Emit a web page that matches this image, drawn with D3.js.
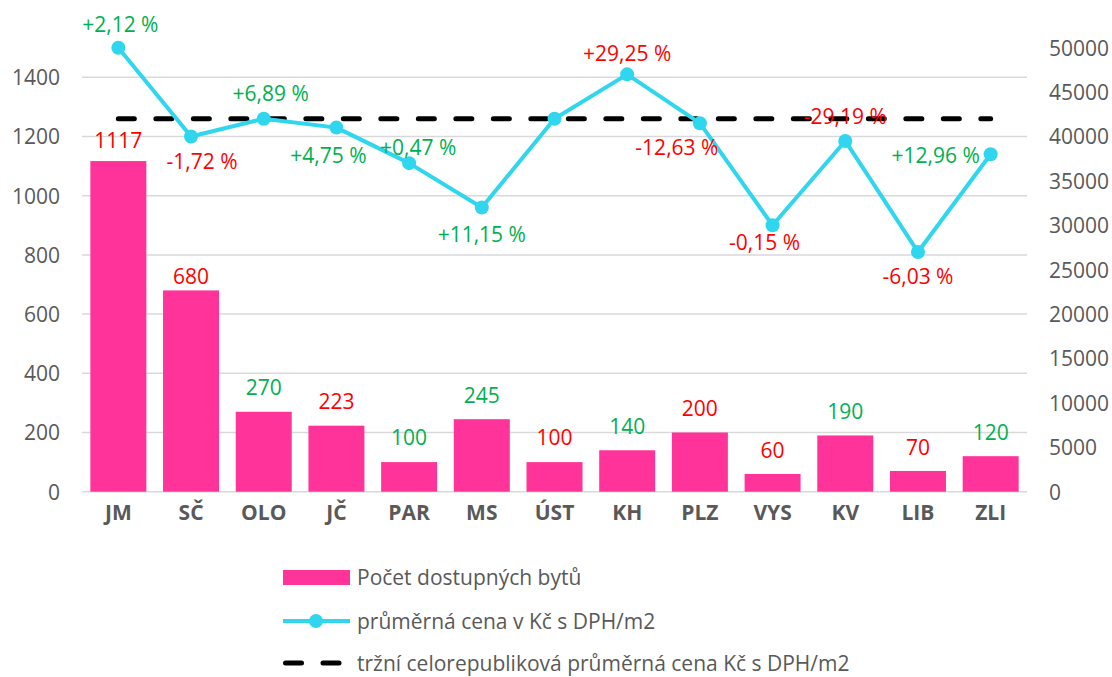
<!DOCTYPE html>
<html><head><meta charset="utf-8">
<script src="https://cdn.jsdelivr.net/npm/d3@7"></script>
<style>body{margin:0;background:#fff}svg{display:block}text{font-family:"Open Sans",sans-serif}</style>
</head><body><svg id="c" width="1112" height="677"></svg>
<script>
const categories = ["JM","SČ","OLO","JČ","PAR","MS","ÚST","KH","PLZ","VYS","KV","LIB","ZLI"];
const flats = [1117,680,270,223,100,245,100,140,200,60,190,70,120];
const flatLabelColor = ["r","r","g","r","g","g","r","g","r","r","g","r","g"];
const avgPrice = [50000,40000,42000,41000,37000,32000,42000,47000,41500,30000,39500,27000,38000];
const pctLabels = ["+2,12 %","-1,72 %","+6,89 %","+4,75 %","+0,47 %","+11,15 %","","+29,25 %","-12,63 %","-0,15 %","-29,19 %","-6,03 %","+12,96 %"];
const pctColor = ["g","r","g","g","g","g","","r","r","r","r","r","g"];
const marketPrice = 42000;
const leftTicks = [0,200,400,600,800,1000,1200,1400];
const rightTicks = [0,5000,10000,15000,20000,25000,30000,35000,40000,45000,50000];
const legendLabels = ["Počet dostupných bytů","průměrná cena v Kč s DPH/m2","tržní celorepubliková průměrná cena Kč s DPH/m2"];

// label placement (styling): offsets from point
const pctDx = [2,11,7,-8,9,0,0,0,-23,-8,0,0,-55];
const pctDy = [-24,24,-26,27,-16,26,0,-21,24,17,-25,24,1];
const barLabelDy = [-21,-14,-25,-25,-25,-24,-25,-24,-25,-24,-24,-24,-24];

const COL = {r:"#FF0000", g:"#00B050"};
const BAR = "#FF3399", LINE = "#2FD6EE", GRID="#D9D9D9", AX="#595959";
const fmt = d3.format("d");

const svg = d3.select("#c");
const x = d3.scaleBand().domain(categories).range([82,1027]).paddingInner(0.23).paddingOuter(0.115);
const yL = d3.scaleLinear().domain([0,1500]).range([491.7,47.7]);
const yR = d3.scaleLinear().domain([0,50000]).range([491.7,47.7]);

// gridlines
svg.append("g").selectAll("line").data(leftTicks).join("line")
  .attr("x1",82).attr("x2",1027).attr("y1",d=>yL(d)).attr("y2",d=>yL(d))
  .attr("stroke",GRID).attr("stroke-width",1.5);

// left axis
const la = svg.append("g").attr("transform","translate(60,0)")
  .call(d3.axisLeft(yL).tickValues(leftTicks).tickFormat(fmt).tickSize(0).tickPadding(0));
la.select(".domain").remove();
la.selectAll("text").attr("font-size",21).attr("fill",AX).attr("font-family","Open Sans").attr("dy","0.35em");

// right axis
const ra = svg.append("g").attr("transform","translate(1049,0)")
  .call(d3.axisRight(yR).tickValues(rightTicks).tickFormat(fmt).tickSize(0).tickPadding(0));
ra.select(".domain").remove();
ra.selectAll("text").attr("font-size",21).attr("fill",AX).attr("font-family","Open Sans").attr("dy","0.35em");

// x axis labels
const xa = svg.append("g").attr("transform","translate(0,505)")
  .call(d3.axisBottom(x).tickSize(0).tickPadding(0));
xa.select(".domain").remove();
xa.selectAll("text").attr("font-size",21).attr("font-weight","bold").attr("fill",AX).attr("font-family","Open Sans").attr("dy","0.71em");

// bars
svg.append("g").selectAll("rect").data(flats).join("rect")
  .attr("x",(d,i)=>x(categories[i])).attr("width",x.bandwidth())
  .attr("y",d=>yL(d)).attr("height",d=>yL(0)-yL(d)).attr("fill",BAR);

svg.append("g").selectAll("text").data(flats).join("text")
  .attr("x",(d,i)=>x(categories[i])+x.bandwidth()/2)
  .attr("y",(d,i)=>yL(d)+barLabelDy[i])
  .attr("text-anchor","middle").attr("dominant-baseline","central")
  .attr("font-size",21).attr("fill",(d,i)=>COL[flatLabelColor[i]]).text(d=>d);

// market dashed line
const cx = i=>x(categories[i])+x.bandwidth()/2;
svg.append("line").attr("x1",cx(0)).attr("x2",cx(categories.length-1))
  .attr("y1",yR(marketPrice)).attr("y2",yR(marketPrice))
  .attr("stroke","#000").attr("stroke-width",5).attr("stroke-linecap","round")
  .attr("stroke-dasharray","16,21.5");

// price line
const line = d3.line().x((d,i)=>cx(i)).y(d=>yR(d));
svg.append("path").datum(avgPrice).attr("d",line).attr("fill","none")
  .attr("stroke",LINE).attr("stroke-width",4).attr("stroke-linejoin","round");
svg.append("g").selectAll("circle").data(avgPrice).join("circle")
  .attr("cx",(d,i)=>cx(i)).attr("cy",d=>yR(d)).attr("r",7).attr("fill",LINE);

// pct labels
svg.append("g").selectAll("text").data(pctLabels).join("text")
  .attr("x",(d,i)=>cx(i)+pctDx[i]).attr("y",(d,i)=>yR(avgPrice[i])+pctDy[i])
  .attr("text-anchor","middle").attr("dominant-baseline","central")
  .attr("font-size",21).attr("fill",(d,i)=>pctColor[i]?COL[pctColor[i]]:"none").text(d=>d);

// legend
const lg = svg.append("g");
const ly = [577,621,663];
lg.append("rect").attr("x",283).attr("y",ly[0]-7).attr("width",67).attr("height",15).attr("fill",BAR);
lg.append("line").attr("x1",283).attr("x2",350).attr("y1",ly[1]).attr("y2",ly[1]).attr("stroke",LINE).attr("stroke-width",4);
lg.append("circle").attr("cx",316).attr("cy",ly[1]).attr("r",7).attr("fill",LINE);
lg.append("line").attr("x1",285.5).attr("x2",350).attr("y1",ly[2]).attr("y2",ly[2]).attr("stroke","#000")
  .attr("stroke-width",5).attr("stroke-linecap","round").attr("stroke-dasharray","16,21.5");
lg.selectAll("text").data(legendLabels).join("text")
  .attr("x",357).attr("y",(d,i)=>ly[i]).attr("dominant-baseline","central")
  .attr("font-size",21).attr("fill",AX).text(d=>d);
</script></body></html>
